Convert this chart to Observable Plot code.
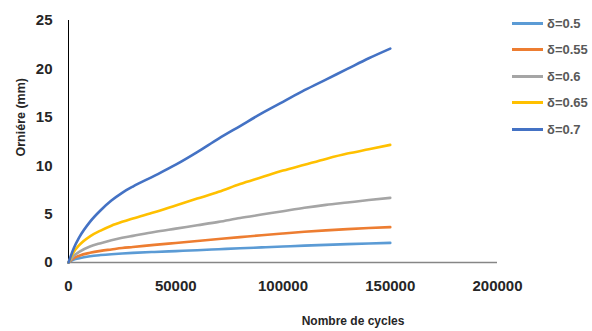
<!DOCTYPE html>
<html>
<head>
<meta charset="utf-8">
<script src="https://cdn.jsdelivr.net/npm/d3@7"></script>
<script src="https://cdn.jsdelivr.net/npm/@observablehq/plot@0.6"></script>
<style>
  html, body { margin: 0; padding: 0; background: #fff; }
  #wrap { position: relative; width: 592px; height: 331px; }
  .leg { position: absolute; left: 512px; font: bold 13px "Liberation Sans", Arial, sans-serif; color: #595959; display: flex; align-items: center; height: 16px; }
  .leg span.sw { display: inline-block; width: 31px; height: 3px; margin-right: 4px; }
</style>
</head>
<body>
<div id="wrap"></div>
<script>
const cycles = [0, 2500, 5000, 10000, 15000, 20000, 25000, 30000, 40000, 50000, 60000, 70000, 80000, 90000, 100000, 110000, 120000, 130000, 140000, 150000];
const seriesNames = ["δ=0.5", "δ=0.55", "δ=0.6", "δ=0.65", "δ=0.7"];
const colors = ["#5B9BD5", "#ED7D31", "#A5A5A5", "#FFC000", "#4472C4"];
const d050 = [0, 0.3, 0.45, 0.65, 0.77, 0.86, 0.93, 0.99, 1.09, 1.18, 1.27, 1.37, 1.47, 1.56, 1.65, 1.74, 1.82, 1.9, 1.97, 2.03];
const d055 = [0, 0.45, 0.7, 1.0, 1.2, 1.35, 1.5, 1.6, 1.82, 2.02, 2.22, 2.42, 2.62, 2.82, 3.0, 3.17, 3.32, 3.45, 3.56, 3.65];
const d060 = [0, 0.7, 1.1, 1.65, 2.0, 2.3, 2.55, 2.75, 3.15, 3.5, 3.85, 4.2, 4.6, 4.95, 5.3, 5.65, 5.95, 6.2, 6.45, 6.68];
const d065 = [0, 1.1, 1.8, 2.7, 3.3, 3.8, 4.2, 4.55, 5.2, 5.9, 6.6, 7.3, 8.1, 8.8, 9.5, 10.1, 10.7, 11.25, 11.7, 12.15];
const d070 = [0, 1.5, 2.6, 4.2, 5.4, 6.4, 7.2, 7.85, 8.95, 10.1, 11.4, 12.8, 14.1, 15.4, 16.6, 17.8, 18.9, 20.0, 21.1, 22.1];
const xTicks = [0, 50000, 100000, 150000, 200000];
const yTicks = [0, 5, 10, 15, 20, 25];
const xTitle = "Nombre de cycles";
const yTitle = "Orniére (mm)";

const allSeries = [d050, d055, d060, d065, d070];
const data = [];
allSeries.forEach((vals, i) => vals.forEach((v, j) => data.push({s: seriesNames[i], x: cycles[j], y: v})));

const chart = Plot.plot({
  width: 592,
  height: 331,
  marginLeft: 68,
  marginRight: 95,
  marginTop: 20,
  marginBottom: 69,
  style: {fontFamily: "'Liberation Sans', Arial, sans-serif", fontSize: "15px", fontWeight: "bold", color: "#262626", background: "#fff"},
  x: {domain: [0, 200000]},
  y: {domain: [0, 25]},
  color: {domain: seriesNames, range: colors},
  marks: [
    Plot.axisX({ticks: xTicks, tickFormat: d => String(d), tickSize: 0, tickPadding: 18, label: null}),
    Plot.axisY({ticks: yTicks, tickSize: 0, tickPadding: 16, label: null}),
    Plot.ruleX([0], {stroke: "#000", strokeWidth: 1}),
    Plot.ruleY([0], {stroke: "#868686", strokeWidth: 1.5}),
    Plot.line(data, {x: "x", y: "y", z: "s", stroke: "s", strokeWidth: 2.6, curve: "monotone-x"}),
    Plot.text([xTitle], {frameAnchor: "bottom", dx: 70, dy: 62, fontSize: 12, fontWeight: "bold", fill: "#262626"}),
    Plot.text([yTitle], {frameAnchor: "left", rotate: -90, dx: -48, dy: 15, fontSize: 12.5, fontWeight: "bold", fill: "#262626"})
  ]
});
const wrap = document.getElementById("wrap");
wrap.appendChild(chart);
const rowY = [23, 49.5, 76, 102.5, 129];
seriesNames.forEach((n, i) => {
  const d = document.createElement("div");
  d.className = "leg";
  d.style.top = (rowY[i] - 8) + "px";
  d.innerHTML = `<span class="sw" style="background:${colors[i]}"></span>${n}`;
  wrap.appendChild(d);
});
</script>
</body>
</html>
